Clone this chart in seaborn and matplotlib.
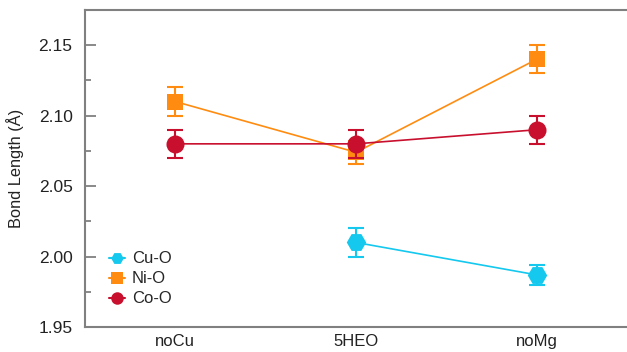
import numpy as np
import pandas as pd
import matplotlib
matplotlib.use("Agg")
import matplotlib.pyplot as plt
from matplotlib.lines import Line2D
from matplotlib.ticker import MultipleLocator, FormatStrFormatter
import seaborn as sns

# Samples on the x axis
samples = ["noCu", "5HEO", "noMg"]

# Mean bond lengths (Å) and their uncertainties per bond type
cu_samples = ["5HEO", "noMg"]
cu_o = [2.010, 1.987]
cu_o_err = [0.010, 0.007]

ni_samples = ["noCu", "5HEO", "noMg"]
ni_o = [2.110, 2.074, 2.140]
ni_o_err = [0.010, 0.008, 0.010]

co_samples = ["noCu", "5HEO", "noMg"]
co_o = [2.080, 2.080, 2.090]
co_o_err = [0.010, 0.010, 0.010]

series = [
    ("Cu-O", cu_samples, cu_o, cu_o_err, "#14C8EE", "H", 14),
    ("Ni-O", ni_samples, ni_o, ni_o_err, "#FF8C10", "s", 12),
    ("Co-O", co_samples, co_o, co_o_err, "#C8102E", "o", 13),
]

sns.set_theme(style="white")
plt.rcParams["font.family"] = ["Liberation Sans", "DejaVu Sans"]

fig = plt.figure(figsize=(6.27, 3.52), dpi=100)
ax = fig.add_axes([85 / 627, 25 / 352, 542 / 627, 317 / 352])

pos = {s: i for i, s in enumerate(samples)}
handles = []
for z, (name, xs, ys, errs, color, marker, ms) in enumerate(series):
    df = pd.DataFrame({"x": [pos[s] for s in xs], "y": ys, "err": errs})
    ax.errorbar(df["x"], df["y"], yerr=df["err"], fmt="none", ecolor=color,
                elinewidth=1.5, capsize=6, capthick=1.5, zorder=2 + 2 * z)
    sns.lineplot(data=df, x="x", y="y", ax=ax, color=color, marker=marker,
                 markersize=ms, markeredgewidth=0, linewidth=1.2,
                 zorder=3 + 2 * z, legend=False)
    handles.append(Line2D([0], [0], color=color, marker=marker, markersize=9,
                          markeredgewidth=0, linewidth=1.5, label=name))

ax.set_xlim(-0.5, 2.5)
ax.set_ylim(1.95, 2.175)
ax.set_xticks(range(len(samples)))
ax.set_xticklabels(samples)
ax.yaxis.set_major_locator(MultipleLocator(0.05))
ax.yaxis.set_minor_locator(MultipleLocator(0.025))
ax.yaxis.set_major_formatter(FormatStrFormatter("%.2f"))
ax.set_xlabel("")
ax.set_ylabel("Bond Length (Å)", fontsize=11.8, color="#222222", labelpad=10)

ax.tick_params(axis="y", which="major", direction="in", length=8, width=1.3,
               color="#808080", labelsize=12.5, labelcolor="#222222", pad=9, left=True)
ax.tick_params(axis="y", which="minor", direction="in", length=4, width=1.3,
               color="#808080", left=True)
ax.tick_params(axis="x", length=0, labelsize=12, labelcolor="#222222", pad=5)

for side in ["left", "top", "bottom"]:
    ax.spines[side].set_color("#808080")
    ax.spines[side].set_linewidth(1.5)
ax.spines["right"].set_visible(False)

ax.legend(handles=handles, loc="lower left", bbox_to_anchor=(0.022, 0.028),
          frameon=False, fontsize=12, handlelength=1.0, handletextpad=0.4,
          labelspacing=0.3, borderaxespad=0.3)

fig.savefig("out.png", dpi=100)
